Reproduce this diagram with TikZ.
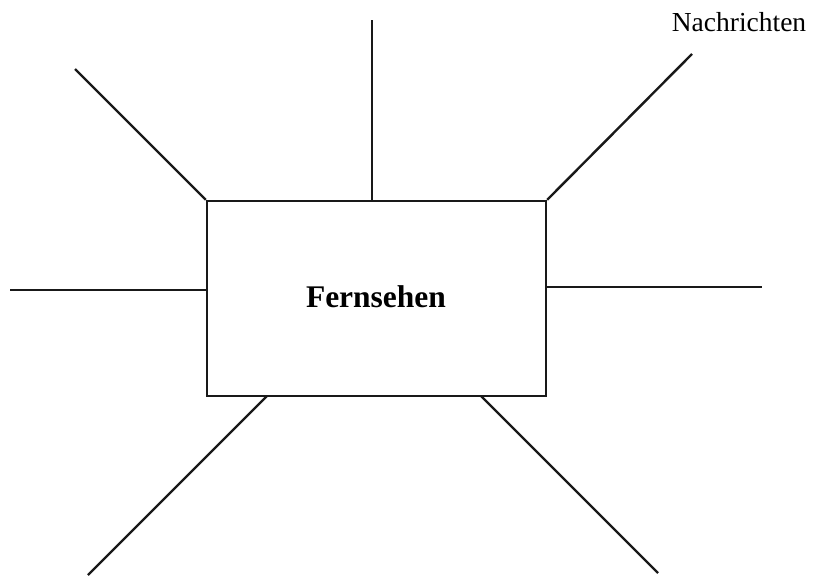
\documentclass[tikz,border=0pt]{standalone}
\usepackage{fontspec}
\setmainfont{Liberation Serif}
\begin{document}
\begin{tikzpicture}[x=1pt,y=-1pt,
  ray/.style={line width=2.4pt, draw=black!90},
  boxst/.style={draw=black!90, line width=2.4pt, minimum width=339pt, minimum height=195pt, inner sep=0pt}]
\useasboundingbox (0,0) rectangle (820,576);
\node[boxst] (box) at (376.5,298.5) {};
\node[font=\fontsize{31.5}{36}\selectfont\bfseries] (title) at (376,297) {Fernsehen};
\node[font=\fontsize{27.5}{33}\selectfont] (lab) at (739,22) {Nachrichten};
\coordinate (t0) at (372,201); \coordinate (t1) at (372,20);
\coordinate (tl1) at (75,69);
\coordinate (tr1) at (692,54);
\coordinate (l0) at (207,290); \coordinate (l1) at (10,290);
\coordinate (r0) at (546,287); \coordinate (r1) at (762,287);
\coordinate (bl0) at (267,396); \coordinate (bl1) at (88,575);
\coordinate (br0) at (481,396); \coordinate (br1) at (658,573);
\draw[ray] (t0) -- (t1);
\draw[ray] (box.north west) -- (tl1);
\draw[ray] (box.north east) -- (tr1);
\draw[ray] (l0) -- (l1);
\draw[ray] (r0) -- (r1);
\draw[ray] (bl0) -- (bl1);
\draw[ray] (br0) -- (br1);
\end{tikzpicture}
\end{document}
